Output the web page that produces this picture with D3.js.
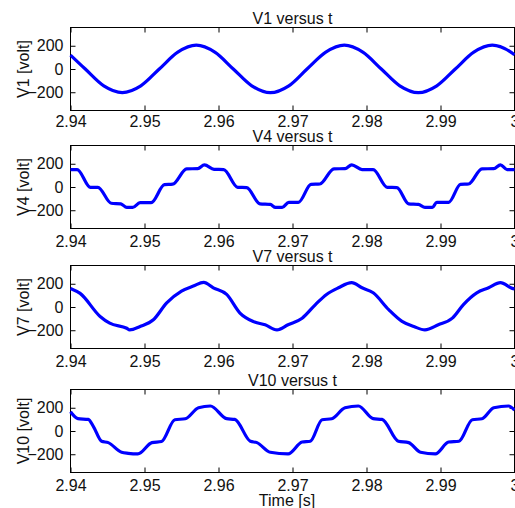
<!DOCTYPE html>
<html>
<head>
<meta charset="utf-8">
<script src="https://cdn.jsdelivr.net/npm/d3@7"></script>
<style>
  body { margin: 0; background: #fff; }
  text { font-family: "Liberation Sans", Arial, sans-serif; fill: #111; }
</style>
</head>
<body>
<div class="canvas"></div>
<script>
// values
const xTicks = [2.94, 2.95, 2.96, 2.97, 2.98, 2.99, 3.0];
const xTickLabels = ['2.94', '2.95', '2.96', '2.97', '2.98', '2.99', '3'];
const yTicks = [-200, 0, 200];
const titles = ['V1 versus t', 'V4 versus t', 'V7 versus t', 'V10 versus t'];
const yLabels = ['V1 [volt]', 'V4 [volt]', 'V7 [volt]', 'V10 [volt]'];

const v1Time = [2.9400, 2.9420, 2.9445, 2.9470, 2.9495, 2.9520, 2.9545, 2.9570, 2.9595,
  2.9620, 2.9645, 2.9670, 2.9695, 2.9720, 2.9745, 2.9770, 2.9795, 2.9820, 2.9845,
  2.9870, 2.9895, 2.9920, 2.9945, 2.9970, 2.9995, 3.0000];
const v1Volt = [120, 0, -145, -203, -145, 0, 145, 205, 145,
  0, -145, -204, -145, 2, 145, 205, 145, 0, -145,
  -204, -145, 0, 145, 205, 145, 122];

const v4Time = [2.9400, 2.9409, 2.9427, 2.9437, 2.9455, 2.9468, 2.9476, 2.9484, 2.9494,
  2.9509, 2.9527, 2.9538, 2.9557, 2.9572, 2.9581, 2.9594, 2.9607, 2.9626, 2.9638,
  2.9656, 2.9670, 2.9677, 2.9686, 2.9695, 2.9708, 2.9725, 2.9737, 2.9756, 2.9771,
  2.9780, 2.9794, 2.9809, 2.9828, 2.9841, 2.9857, 2.9870, 2.9879, 2.9889, 2.9895,
  2.9911, 2.9927, 2.9938, 2.9956, 2.9972, 2.9981, 2.9990, 3.0000];
const v4Volt = [150, 150, -3, -3, -140, -145, -176, -176, -135,
  -135, 20, 24, 156, 158, 190, 152, 150, -3, -5,
  -145, -150, -176, -176, -132, -132, 22, 26, 156, 158,
  191, 150, 150, -3, -5, -145, -150, -176, -176, -132,
  -132, 22, 26, 156, 158, 191, 150, 150];

const v7Time = [2.9400, 2.9413, 2.9440, 2.9453, 2.9476, 2.9480, 2.9494, 2.9512, 2.9530,
  2.9550, 2.9566, 2.9580, 2.9593, 2.9611, 2.9629, 2.9647, 2.9663, 2.9679, 2.9694,
  2.9713, 2.9731, 2.9746, 2.9762, 2.9780, 2.9794, 2.9809, 2.9830, 2.9848, 2.9864,
  2.9879, 2.9897, 2.9916, 2.9931, 2.9949, 2.9965, 2.9981, 2.9997, 3.0000];
const v7Volt = [160, 117, -81, -139, -183, -197, -168, -110, 35,
  137, 180, 212, 165, 108, -52, -125, -153, -197, -153,
  -96, 21, 108, 165, 209, 165, 122, -23, -124, -168,
  -197, -153, -96, 21, 122, 165, 209, 160, 155];

const v10Time = [2.9400, 2.9410, 2.9424, 2.9431, 2.9442, 2.9451, 2.9469, 2.9478, 2.9491,
  2.9510, 2.9523, 2.9541, 2.9555, 2.9573, 2.9589, 2.9611, 2.9622, 2.9643, 2.9652,
  2.9670, 2.9694, 2.9713, 2.9724, 2.9740, 2.9753, 2.9771, 2.9789, 2.9809, 2.9821,
  2.9843, 2.9857, 2.9873, 2.9893, 2.9911, 2.9925, 2.9943, 2.9956, 2.9972, 2.9992,
  3.0000];
const v10Volt = [165, 106, 100, 38, -88, -100, -183, -192, -197,
  -100, -90, 97, 105, 200, 215, 106, 100, -88, -100,
  -183, -197, -95, -88, 97, 105, 200, 215, 106, 100,
  -88, -100, -183, -197, -95, -88, 97, 105, 200, 215,
  180];

const series = [
  [v1Time, v1Volt],
  [v4Time, v4Volt],
  [v7Time, v7Volt],
  [v10Time, v10Volt]
];

const width = 515, height = 508;
const panelTops = [27, 145, 265, 389];
const panelHeight = 83;
const labelPad = [5, 7, 7, 7];
const plotLeft = 70.5, plotRight = 514.5;

const svg = d3.select('.canvas')
  .append('svg')
  .attr('width', width)
  .attr('height', height)
  .style('font-size', '16px');

const x = d3.scaleLinear().domain([2.94, 3.0]).range([plotLeft, plotRight]);
const y = d3.scaleLinear().domain([-357, 357]).range([panelHeight, 0]);

const line = d3.line()
  .x(d => x(d[0]))
  .y(d => y(d[1]))
  .curve(d3.curveMonotoneX);

series.forEach((s, i) => {
  const g = svg.append('g')
    .attr('transform', `translate(0, ${panelTops[i] + 0.5})`);

  // box
  g.append('rect')
    .attr('x', plotLeft)
    .attr('y', 0)
    .attr('width', plotRight - plotLeft)
    .attr('height', panelHeight)
    .attr('fill', 'none')
    .attr('stroke', '#000');

  const bottom = g.append('g')
    .attr('transform', `translate(0, ${panelHeight})`)
    .call(d3.axisBottom(x).tickValues(xTicks)
      .tickFormat((d, k) => xTickLabels[k])
      .tickSize(-5).tickSizeOuter(0).tickPadding(labelPad[i]));

  const top = g.append('g')
    .call(d3.axisTop(x).tickValues(xTicks).tickFormat('')
      .tickSize(-5).tickSizeOuter(0));

  const left = g.append('g')
    .attr('transform', `translate(${plotLeft}, 0)`)
    .call(d3.axisLeft(y).tickValues(yTicks)
      .tickSize(-5).tickSizeOuter(0).tickPadding(7));

  const right = g.append('g')
    .attr('transform', `translate(${plotRight}, 0)`)
    .call(d3.axisRight(y).tickValues(yTicks).tickFormat('')
      .tickSize(-5).tickSizeOuter(0));

  [bottom, top, left, right].forEach(a => {
    a.select('.domain').remove();
    a.selectAll('text').attr('fill', '#111').style('font-size', '16px')
      .attr('font-family', '"Liberation Sans", Arial, sans-serif');
  });

  g.append('path')
    .datum(s[0].map((t, k) => [t, s[1][k]]))
    .attr('fill', 'none')
    .attr('stroke', '#0000ff')
    .attr('stroke-width', 3.2)
    .attr('stroke-linejoin', 'round')
    .attr('d', line);

  g.append('text')
    .attr('x', (plotLeft + plotRight) / 2)
    .attr('y', -4)
    .attr('text-anchor', 'middle')
    .text(titles[i]);

  g.append('text')
    .attr('transform', `translate(29, ${panelHeight / 2}) rotate(-90)`)
    .attr('text-anchor', 'middle')
    .text(yLabels[i]);
});

svg.append('text')
  .attr('x', 287)
  .attr('y', 506)
  .attr('text-anchor', 'middle')
  .text('Time [s]');
</script>
</body>
</html>
